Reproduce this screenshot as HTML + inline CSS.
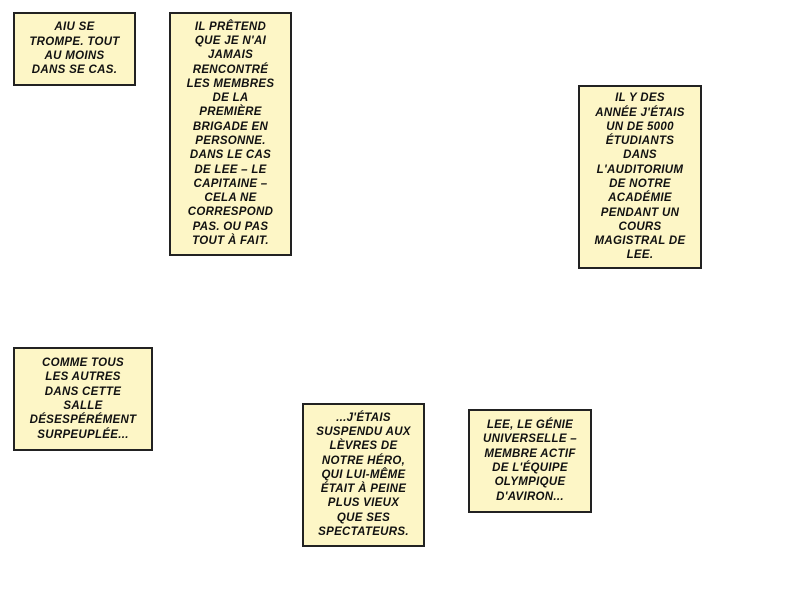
<!DOCTYPE html>
<html><head><meta charset="utf-8"><style>
body{margin:0;width:800px;height:600px;background:#fff;position:relative;overflow:hidden}
.b{position:absolute;box-sizing:border-box;border:2px solid #222;background:#fdf6c6;display:flex;align-items:center;justify-content:center;text-align:center;font-family:"Liberation Sans",sans-serif;font-weight:bold;font-style:italic;font-size:11.5px;line-height:14.3px;color:#111;letter-spacing:0.3px}
</style></head><body>
<div class="b" style="left:13px;top:12px;width:123px;height:74px">AIU SE<br>TROMPE. TOUT<br>AU MOINS<br>DANS SE CAS.</div>
<div class="b" style="left:169px;top:12px;width:123px;height:244px">IL PRÊTEND<br>QUE JE N'AI<br>JAMAIS<br>RENCONTRÉ<br>LES MEMBRES<br>DE LA<br>PREMIÈRE<br>BRIGADE EN<br>PERSONNE.<br>DANS LE CAS<br>DE LEE – LE<br>CAPITAINE –<br>CELA NE<br>CORRESPOND<br>PAS. OU PAS<br>TOUT À FAIT.</div>
<div class="b" style="left:578px;top:85px;width:124px;height:184px">IL Y DES<br>ANNÉE J'ÉTAIS<br>UN DE 5000<br>ÉTUDIANTS<br>DANS<br>L'AUDITORIUM<br>DE NOTRE<br>ACADÉMIE<br>PENDANT UN<br>COURS<br>MAGISTRAL DE<br>LEE.</div>
<div class="b" style="left:13px;top:347px;width:140px;height:104px">COMME TOUS<br>LES AUTRES<br>DANS CETTE<br>SALLE<br>DÉSESPÉRÉMENT<br>SURPEUPLÉE...</div>
<div class="b" style="left:302px;top:403px;width:123px;height:144px">...J'ÉTAIS<br>SUSPENDU AUX<br>LÈVRES DE<br>NOTRE HÉRO,<br>QUI LUI-MÊME<br>ÉTAIT À PEINE<br>PLUS VIEUX<br>QUE SES<br>SPECTATEURS.</div>
<div class="b" style="left:468px;top:409px;width:124px;height:104px">LEE, LE GÉNIE<br>UNIVERSELLE –<br>MEMBRE ACTIF<br>DE L'ÉQUIPE<br>OLYMPIQUE<br>D'AVIRON...</div>
</body></html>
